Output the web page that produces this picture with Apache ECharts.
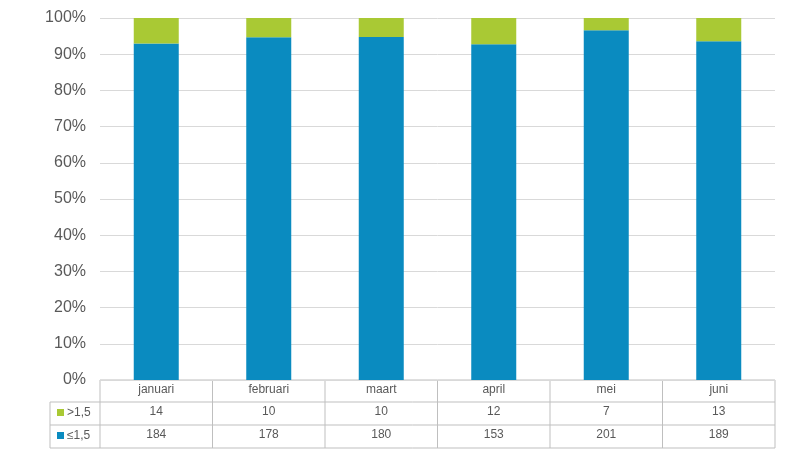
<!DOCTYPE html>
<html><head><meta charset="utf-8">
<script src="https://cdn.jsdelivr.net/npm/echarts@6/dist/echarts.min.js"></script>
<style>html,body{margin:0;background:#fff}#c{width:800px;height:474px}</style>
</head><body><div id="c"></div>
<script>
const categories=['januari','februari','maart','april','mei','juni'];
const high=[14,10,10,12,7,13];
const low=[184,178,180,153,201,189];
const yTicks=[0,10,20,30,40,50,60,70,80,90,100];
const pct=(a,i)=>a[i]/(high[i]+low[i])*100;
const lowPct=low.map((v,i)=>pct(low,i));
const highPct=high.map((v,i)=>pct(high,i));
const chart=echarts.init(document.getElementById('c'));
const L=100,R=775,T=18,B=380;
const tc='#595959',lc='#bfbfbf';
const gfx=[];
[380,402,425,448].forEach((y,k)=>gfx.push({type:'line',shape:{x1:k===0?L:50,y1:y,x2:R,y2:y},style:{stroke:lc,lineWidth:1}}));
for(let i=0;i<=6;i++){const x=L+(R-L)/6*i;gfx.push({type:'line',shape:{x1:x,y1:380,x2:x,y2:448},style:{stroke:lc,lineWidth:1}});}
gfx.push({type:'line',shape:{x1:50,y1:402,x2:50,y2:448},style:{stroke:lc}});
gfx.push({type:'rect',shape:{x:57,y:409,width:7,height:7},style:{fill:'#a9c934'}});
gfx.push({type:'text',x:67,y:413,style:{text:'>1,5',fill:tc,font:'12px "Liberation Sans"',verticalAlign:'middle'}});
gfx.push({type:'rect',shape:{x:57,y:432,width:7,height:7},style:{fill:'#0a8bc0'}});
gfx.push({type:'text',x:67,y:436,style:{text:'≤1,5',fill:tc,font:'12px "Liberation Sans"',verticalAlign:'middle'}});
const xa=(data,off,margin)=>({type:'category',data,position:'bottom',offset:off,axisLine:{show:false},axisTick:{show:false},
 axisLabel:{color:tc,fontSize:12,fontFamily:'Liberation Sans',margin,interval:0}});
chart.setOption({
 animation:false,
 grid:{left:L,right:800-R,top:T,bottom:474-B},
 xAxis:[xa(categories,0,4),xa(high.map(String),22,4),xa(low.map(String),45,4)],
 yAxis:{type:'value',min:0,max:100,interval:10,
  axisLabel:{formatter:'{value}%',color:tc,fontSize:16,fontFamily:'Liberation Sans',margin:14},
  axisLine:{show:false},axisTick:{show:false},splitLine:{lineStyle:{color:'#d9d9d9'}}},
 series:[
  {type:'bar',stack:'s',data:lowPct,barWidth:45,itemStyle:{color:'#0a8bc0'}},
  {type:'bar',stack:'s',data:highPct,barWidth:45,itemStyle:{color:'#a9c934'}}
 ],
 graphic:gfx
});
</script></body></html>
